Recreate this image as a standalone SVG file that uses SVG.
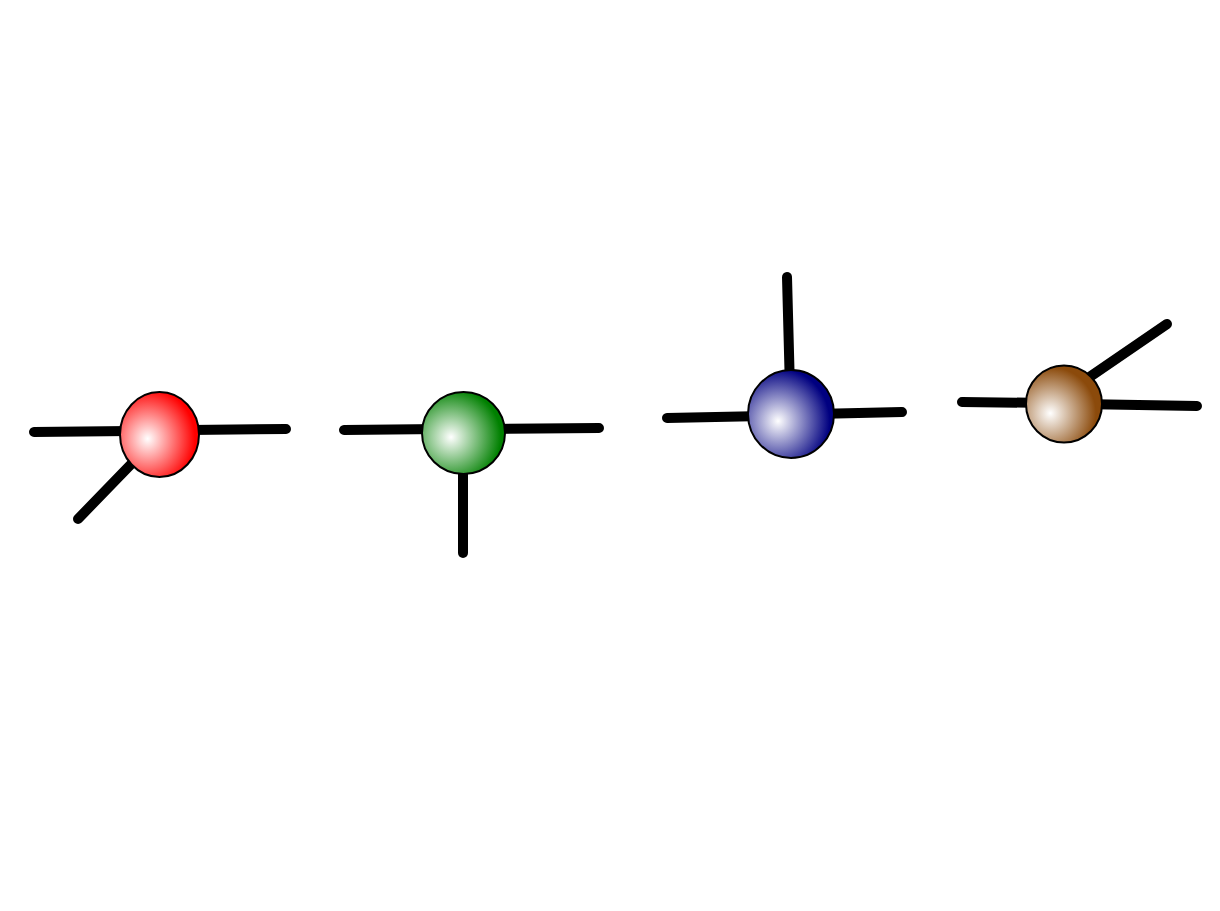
<svg xmlns="http://www.w3.org/2000/svg" width="1220" height="911" viewBox="0 0 1220 911">
<defs>
<radialGradient id="gRed" cx="0.35" cy="0.55" r="0.6" fx="0.35" fy="0.55"><stop offset="0" stop-color="#ffffff"/><stop offset="1" stop-color="#ff0000"/></radialGradient>
<radialGradient id="gGreen" cx="0.35" cy="0.55" r="0.6" fx="0.35" fy="0.55"><stop offset="0" stop-color="#ffffff"/><stop offset="1" stop-color="#008000"/></radialGradient>
<radialGradient id="gBlue" cx="0.35" cy="0.58" r="0.6" fx="0.35" fy="0.58"><stop offset="0" stop-color="#ffffff"/><stop offset="1" stop-color="#000080"/></radialGradient>
<radialGradient id="gBrown" cx="0.32" cy="0.62" r="0.6" fx="0.32" fy="0.62"><stop offset="0" stop-color="#ffffff"/><stop offset="1" stop-color="#8b4a0b"/></radialGradient>
</defs>
<style>
.edge{stroke:#000;stroke-width:10;stroke-linecap:round;fill:none}
.node{stroke:#000;stroke-width:2}
</style>
<rect width="1220" height="911" fill="#fff"/>
<g id="connectors">
<line class="edge" x1="34" y1="432" x2="130" y2="431"/>
<line class="edge" x1="190" y1="430" x2="286" y2="429"/>
<line class="edge" x1="78" y1="519" x2="140" y2="455"/>
<line class="edge" x1="344" y1="430" x2="440" y2="429"/>
<line class="edge" x1="490" y1="429" x2="599" y2="428"/>
<line class="edge" x1="463" y1="460" x2="463" y2="553"/>
<line class="edge" x1="787" y1="277" x2="790" y2="390"/>
<line class="edge" x1="667" y1="418" x2="770" y2="416"/>
<line class="edge" x1="815" y1="414" x2="902" y2="412"/>
<line class="edge" x1="962" y1="402" x2="1050" y2="403"/>
<line class="edge" x1="1080" y1="404" x2="1197" y2="406"/>
<line class="edge" x1="1075" y1="387" x2="1167" y2="324"/>
</g>
<g id="node-red"><ellipse class="node" cx="159.5" cy="434.5" rx="39.5" ry="42.5" fill="url(#gRed)"/></g>
<g id="node-green"><ellipse class="node" cx="463.5" cy="433" rx="41.5" ry="41" fill="url(#gGreen)"/></g>
<g id="node-blue"><ellipse class="node" cx="791" cy="414" rx="43" ry="44" fill="url(#gBlue)"/></g>
<g id="node-brown"><ellipse class="node" cx="1064" cy="404" rx="38" ry="38.5" fill="url(#gBrown)"/></g>
</svg>
